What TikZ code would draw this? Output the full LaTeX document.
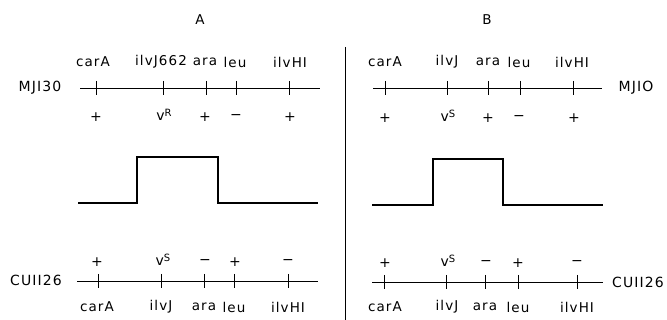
\documentclass[tikz,border=0pt]{standalone}
\usepackage{fontspec}
\setmainfont{DejaVu Sans}[LetterSpace=8]
\newcommand{\vsup}[1]{v\raisebox{0.55ex}{\fontsize{10}{10}\selectfont #1}}
\begin{document}
\begin{tikzpicture}[x=1pt,y=-1pt,
  lbl/.style={font=\fontsize{13.5}{15}\selectfont, inner sep=0pt},
  strain/.style={font=\fontsize{14}{16}\selectfont, inner sep=0pt},
  sgn/.style={font=\fontsize{14}{15}\selectfont, inner sep=0pt},
  chrom/.style={line width=0.8pt},
  pulse/.style={line width=1.1pt}]
\useasboundingbox (0,0) rectangle (667,320);
% titles
\node[lbl] (tA) at (200,20) {A};
\node[lbl] (tB) at (487,20) {B};
% divider
\coordinate (d1) at (345,47);
\coordinate (d2) at (345,320);
\draw[chrom] (d1) -- (d2);

% ---------- Panel A, top ----------
\coordinate (a1) at (80,88); \coordinate (a2) at (320,88);
\draw[chrom] (a1) -- (a2);
\foreach \x in {96,163,206,236,289} \draw[chrom] (\x,81) -- (\x,95);
\node[strain] (sA1) at (40,88) {MJI30};
\node[lbl] (gA1) at (93,62) {carA};
\node[lbl] (gA2) at (161,62) {ilvJ662};
\node[lbl] (gA3) at (205,62) {ara};
\node[lbl] (gA4) at (235,62) {leu};
\node[lbl] (gA5) at (290,62) {ilvHI};
\node[sgn] (pA1) at (96,117) {+};
\node[sgn] (pA2) at (164,115) {\vsup{R}};
\node[sgn] (pA3) at (205,117) {+};
\node[sgn] (pA4) at (236,117) {−};
\node[sgn] (pA5) at (290,117) {+};
% pulse A
\coordinate (qa0) at (78,203); \coordinate (qa1) at (137,203);
\coordinate (qa2) at (137,157); \coordinate (qa3) at (218,157);
\coordinate (qa4) at (218,203); \coordinate (qa5) at (318,203);
\draw[pulse] (qa0) -- (qa1) -- (qa2) -- (qa3) -- (qa4) -- (qa5);
% ---------- Panel A, bottom ----------
\coordinate (b1) at (77,281); \coordinate (b2) at (318,281);
\draw[chrom] (b1) -- (b2);
\foreach \x in {98,161,204,234,288} \draw[chrom] (\x,274) -- (\x,288);
\node[strain] (sA2) at (36,280) {CUII26};
\node[sgn] (mA1) at (97,262) {+};
\node[sgn] (mA2) at (163,260) {\vsup{S}};
\node[sgn] (mA3) at (205,262) {−};
\node[sgn] (mA4) at (235,262) {+};
\node[sgn] (mA5) at (288,262) {−};
\node[lbl] (hA1) at (97,307) {carA};
\node[lbl] (hA2) at (161,307) {ilvJ};
\node[lbl] (hA3) at (204,307) {ara};
\node[lbl] (hA4) at (234,307) {leu};
\node[lbl] (hA5) at (288,307) {ilvHI};

% ---------- Panel B, top ----------
\coordinate (c1) at (373,88); \coordinate (c2) at (602,88);
\draw[chrom] (c1) -- (c2);
\foreach \x in {385,447,488,520,573} \draw[chrom] (\x,81) -- (\x,95);
\node[strain] (sB1) at (636,88) {MJIO};
\node[lbl] (gB1) at (385,62) {carA};
\node[lbl] (gB2) at (447,62) {ilvJ};
\node[lbl] (gB3) at (488,62) {ara};
\node[lbl] (gB4) at (519,62) {leu};
\node[lbl] (gB5) at (572,62) {ilvHI};
\node[sgn] (pB1) at (385,118) {+};
\node[sgn] (pB2) at (448,116) {\vsup{S}};
\node[sgn] (pB3) at (488,118) {+};
\node[sgn] (pB4) at (519,118) {−};
\node[sgn] (pB5) at (574,118) {+};
% pulse B
\coordinate (qb0) at (372,205); \coordinate (qb1) at (433,205);
\coordinate (qb2) at (433,159); \coordinate (qb3) at (503,159);
\coordinate (qb4) at (503,205); \coordinate (qb5) at (603,205);
\draw[pulse] (qb0) -- (qb1) -- (qb2) -- (qb3) -- (qb4) -- (qb5);
% ---------- Panel B, bottom ----------
\coordinate (e1) at (372,282); \coordinate (e2) at (603,282);
\draw[chrom] (e1) -- (e2);
\foreach \x in {384,446,485,518,577} \draw[chrom] (\x,275) -- (\x,289);
\node[strain] (sB2) at (638,282) {CUII26};
\node[sgn] (mB1) at (385,263) {+};
\node[sgn] (mB2) at (448,261) {\vsup{S}};
\node[sgn] (mB3) at (486,263) {−};
\node[sgn] (mB4) at (518,263) {+};
\node[sgn] (mB5) at (577,263) {−};
\node[lbl] (hB1) at (385,307) {carA};
\node[lbl] (hB2) at (447,307) {ilvJ};
\node[lbl] (hB3) at (485,307) {ara};
\node[lbl] (hB4) at (518,307) {leu};
\node[lbl] (hB5) at (577,307) {ilvHI};
\end{tikzpicture}
\end{document}
